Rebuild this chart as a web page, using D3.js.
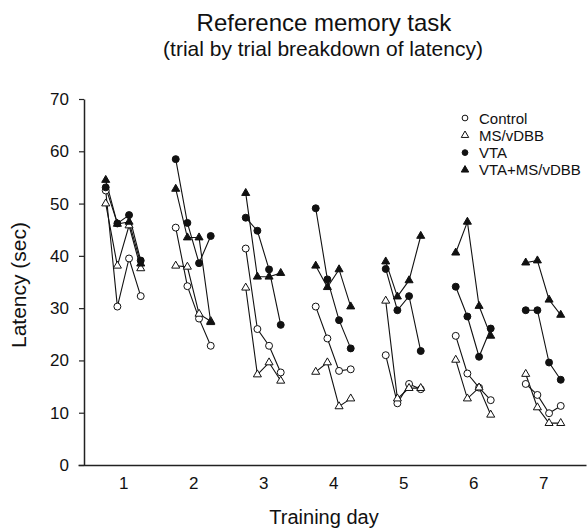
<!DOCTYPE html>
<html>
<head>
<meta charset="utf-8">
<script src="https://cdn.jsdelivr.net/npm/d3@7"></script>
<style>
  body { margin: 0; background: #fff; }
  svg { font-family: "Liberation Sans", Arial, sans-serif; }
</style>
</head>
<body>
<div id="chart"></div>
<script>
// training days and the 4 trials within each day
var days = [1, 2, 3, 4, 5, 6, 7];
var trials = [1, 2, 3, 4];
var yTicks = [0, 10, 20, 30, 40, 50, 60, 70];

// latency (sec), one row per day, 4 trials per row
var control = [
  [52.5, 30.3, 39.5, 32.3],
  [45.4, 34.2, 28.0, 22.8],
  [41.4, 26.0, 22.8, 17.7],
  [30.3, 24.2, 18.0, 18.3],
  [21.0, 11.8, 15.5, 14.5],
  [24.7, 17.5, 14.8, 12.4],
  [15.5, 13.4, 9.9, 11.3]
];
var msvdbb = [
  [50.0, 38.1, 45.8, 37.6],
  [38.1, 37.9, 28.9, 27.5],
  [33.9, 17.3, 19.6, 16.1],
  [17.8, 19.6, 11.2, 12.7],
  [31.4, 12.7, 14.7, 14.7],
  [20.1, 12.7, 14.8, 9.6],
  [17.4, 11.0, 8.0, 8.0]
];
var vta = [
  [53.1, 46.2, 47.8, 39.1],
  [58.5, 46.3, 38.6, 43.8],
  [47.3, 44.8, 37.4, 26.8],
  [49.1, 35.5, 27.7, 22.3],
  [37.5, 29.6, 32.3, 21.8],
  [34.1, 28.4, 20.7, 26.1],
  [29.6, 29.6, 19.6, 16.3]
];
var vtaMs = [
  [54.5, 46.1, 46.5, 38.5],
  [52.8, 43.5, 43.5, 27.3],
  [52.0, 36.0, 36.0, 36.7],
  [38.1, 34.0, 37.4, 30.3],
  [38.9, 32.2, 35.3, 43.8],
  [40.6, 46.5, 30.4, 24.7],
  [38.7, 39.1, 31.6, 28.7]
];

var groups = [
  { name: "Control", values: control, symbol: d3.symbolCircle, filled: false },
  { name: "MS/vDBB", values: msvdbb, symbol: d3.symbolTriangle, filled: false },
  { name: "VTA", values: vta, symbol: d3.symbolCircle, filled: true },
  { name: "VTA+MS/vDBB", values: vtaMs, symbol: d3.symbolTriangle, filled: true }
];

var width = 588, height = 529;
var svg = d3.select("#chart").append("svg")
  .attr("width", width)
  .attr("height", height);

// scales
var xScale = d3.scaleLinear().domain([0.354, 7.611]).range([78, 586]);
var yScale = d3.scaleLinear().domain([0, 70]).range([465, 99]);
var axisX = 84;

// position of a trial within a day
function trialX(day, t) {
  return xScale(day + (t - 2.5) / 6);
}

// titles
svg.append("text")
  .attr("x", 324).attr("y", 31)
  .attr("text-anchor", "middle")
  .style("font-size", "24px")
  .attr("fill", "#111")
  .text("Reference memory task");

svg.append("text")
  .attr("x", 323).attr("y", 56)
  .attr("text-anchor", "middle")
  .style("font-size", "21px")
  .attr("fill", "#111")
  .text("(trial by trial breakdown of latency)");

// x axis (no tick marks)
var xAxis = d3.axisBottom(xScale)
  .tickValues(days)
  .tickSize(0)
  .tickPadding(12)
  .tickFormat(d3.format("d"));

var gx = svg.append("g")
  .attr("transform", "translate(0," + yScale(0) + ")")
  .call(xAxis);
gx.selectAll("text").style("font-size", "17px").attr("fill", "#111");
gx.select(".domain").attr("stroke", "#222").attr("stroke-width", 1.5);

// y axis
var yAxis = d3.axisLeft(yScale)
  .tickValues(yTicks)
  .tickSize(5)
  .tickSizeOuter(0)
  .tickPadding(10);

var gy = svg.append("g")
  .attr("transform", "translate(" + axisX + ",0)")
  .call(yAxis);
gy.selectAll("text").style("font-size", "17px").attr("fill", "#111");
gy.select(".domain").attr("stroke", "#222").attr("stroke-width", 1.5);
gy.selectAll(".tick line").attr("stroke", "#222").attr("stroke-width", 1.2);

// axis titles
svg.append("text")
  .attr("x", 324).attr("y", 524)
  .attr("text-anchor", "middle")
  .style("font-size", "20px")
  .attr("fill", "#111")
  .text("Training day");

svg.append("text")
  .attr("transform", "translate(26,285) rotate(-90)")
  .attr("text-anchor", "middle")
  .style("font-size", "21px")
  .attr("fill", "#111")
  .text("Latency (sec)");

// lines and markers for each group, one line per day
var line = d3.line()
  .x(function (d) { return trialX(d.day, d.t); })
  .y(function (d) { return yScale(d.v); });

groups.forEach(function (g) {
  var gg = svg.append("g");
  g.values.forEach(function (row, i) {
    var pts = row.map(function (v, j) { return { day: days[i], t: trials[j], v: v }; });
    gg.append("path")
      .datum(pts)
      .attr("fill", "none")
      .attr("stroke", "#111")
      .attr("stroke-width", 1.1)
      .attr("d", line);
  });
});

groups.forEach(function (g) {
  var gg = svg.append("g");
  g.values.forEach(function (row, i) {
    row.forEach(function (v, j) {
      var size = g.symbol === d3.symbolCircle ? 38 : 28;
      gg.append("path")
        .attr("d", d3.symbol().type(g.symbol).size(size)())
        .attr("transform", "translate(" + trialX(days[i], trials[j]) + "," + yScale(v) + ")")
        .attr("fill", g.filled ? "#111" : "#fff")
        .attr("stroke", "#111")
        .attr("stroke-width", 1);
    });
  });
});

// legend
var legend = svg.append("g").attr("transform", "translate(465,118)");
groups.forEach(function (g, i) {
  var row = legend.append("g").attr("transform", "translate(0," + (i * 17.3) + ")");
  row.append("path")
    .attr("d", d3.symbol().type(g.symbol).size(g.symbol === d3.symbolCircle ? 26 : 24)())
    .attr("fill", g.filled ? "#111" : "#fff")
    .attr("stroke", "#111")
    .attr("stroke-width", 1);
  row.append("text")
    .attr("x", 14).attr("y", 5.5)
    .style("font-size", "15px")
    .attr("fill", "#111")
    .text(g.name);
});
</script>
</body>
</html>
